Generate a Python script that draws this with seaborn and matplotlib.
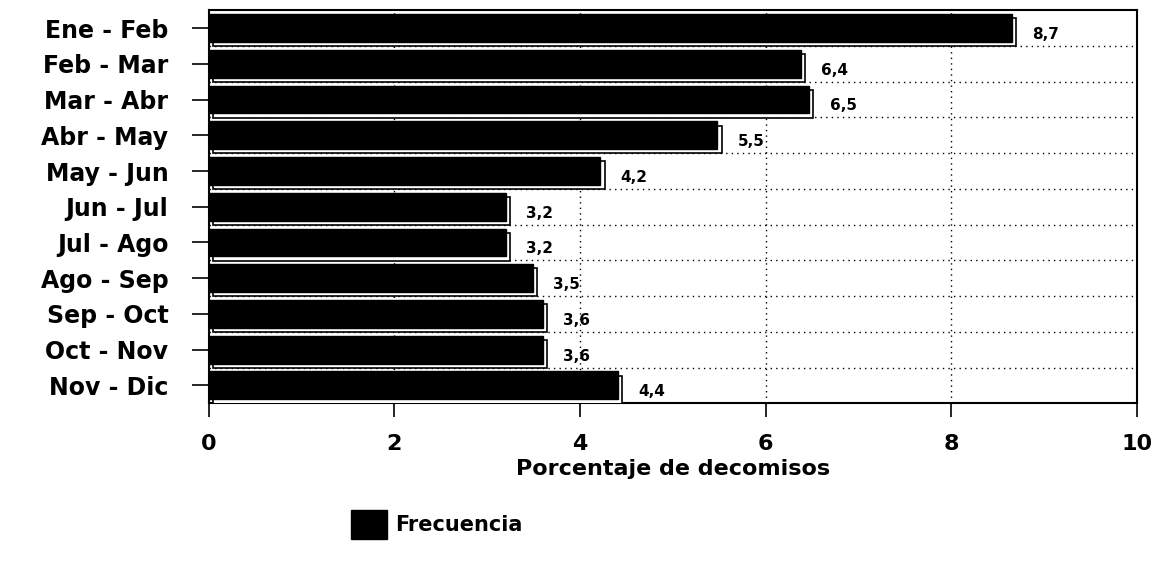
import matplotlib
matplotlib.use("Agg")
import matplotlib.pyplot as plt
import matplotlib.patheffects as pe
from matplotlib.patches import Patch
import seaborn as sns
import pandas as pd

# datos
periodos = ['Ene - Feb', 'Feb - Mar', 'Mar - Abr', 'Abr - May', 'May - Jun', 'Jun - Jul',
            'Jul - Ago', 'Ago - Sep', 'Sep - Oct', 'Oct - Nov', 'Nov - Dic']
porcentaje = [8.65, 6.38, 6.47, 5.48, 4.22, 3.2, 3.2, 3.49, 3.6, 3.6, 4.41]
etiquetas = ['8,7', '6,4', '6,5', '5,5', '4,2', '3,2', '3,2', '3,5', '3,6', '3,6', '4,4']

df = pd.DataFrame({'periodo': periodos, 'porcentaje': porcentaje})

sns.set_style('white')
plt.rcParams['font.family'] = ['DejaVu Sans']
plt.rcParams['text.color'] = 'black'
plt.rcParams['xtick.color'] = 'black'
plt.rcParams['ytick.color'] = 'black'
plt.rcParams['axes.labelcolor'] = 'black'

fig = plt.figure(figsize=(11.59, 5.68), dpi=100)
ax = fig.add_axes([0.180, 0.29, 0.801, 0.692])

sns.barplot(data=df, y='periodo', x='porcentaje', color='black', width=0.78,
            orient='h', ax=ax, zorder=3)

# efecto 3D de las barras
for bar in ax.patches:
    bar.set_edgecolor('black')
    bar.set_linewidth(1)
    bar.set_path_effects([
        pe.PathPatchEffect(offset=(3, -3), facecolor='white', edgecolor='black', linewidth=1.2),
        pe.Normal(),
    ])

# etiquetas de valor
for i, (v, t) in enumerate(zip(porcentaje, etiquetas)):
    ax.text(v + 0.22, i + 0.18, t, va='center', ha='left', fontsize=11,
            fontweight='bold', zorder=4)

ax.set_xlim(0, 10)
ax.set_ylim(len(periodos) - 0.5, -0.5)
ax.set_xticks([0, 2, 4, 6, 8, 10])

# rejilla punteada
for x in [2, 4, 6, 8]:
    ax.axvline(x, color='black', linestyle=(0, (1, 3)), linewidth=1, zorder=1)
for k in range(len(periodos) - 1):
    ax.axhline(k + 0.5, color='black', linestyle=(0, (1, 3)), linewidth=1, zorder=1)

for s in ax.spines.values():
    s.set_visible(True)
    s.set_color('black')
    s.set_linewidth(1.5)

ax.tick_params(axis='y', left=True, length=12, width=1.2, labelsize=17, pad=17)
ax.tick_params(axis='x', bottom=True, length=10, width=1.2, labelsize=16, pad=12)
for lab in ax.get_yticklabels() + ax.get_xticklabels():
    lab.set_fontweight('bold')

ax.set_ylabel('')
ax.set_xlabel('Porcentaje de decomisos', fontsize=16, fontweight='bold', labelpad=4)

fig.legend(handles=[Patch(facecolor='black', edgecolor='black', label='Frecuencia')],
           loc='center', bbox_to_anchor=(0.377, 0.077), frameon=False,
           prop={'size': 15, 'weight': 'bold'}, handlelength=1.7, handleheight=1.8,
           handletextpad=0.4)

fig.savefig('out.png', dpi=100)
